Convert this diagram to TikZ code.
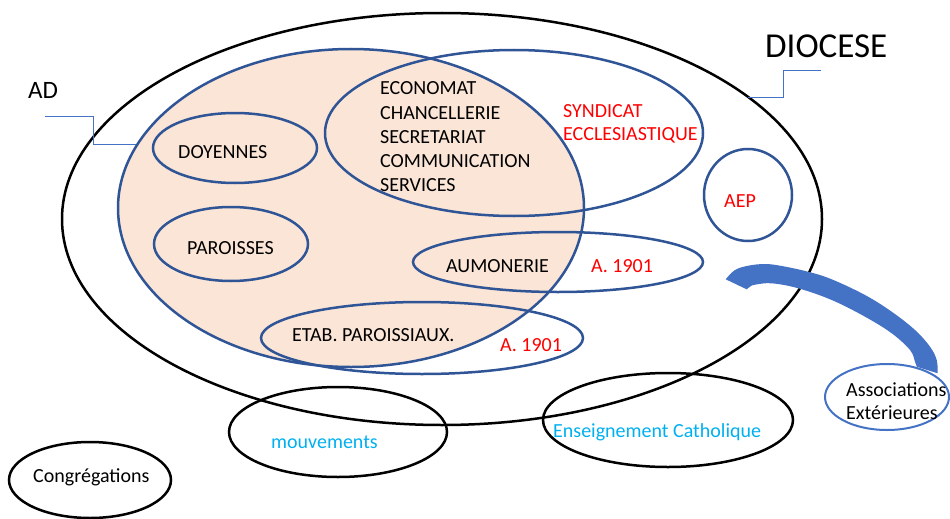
\documentclass[tikz,border=0pt]{standalone}
\usepackage{fontspec}
\setmainfont{Carlito}
\usetikzlibrary{shapes.geometric}
\definecolor{dblue}{HTML}{2F5597}
\definecolor{mblue}{HTML}{4472C4}
\definecolor{peach}{HTML}{FBE5D6}
\definecolor{cyantext}{HTML}{00B0F0}
\definecolor{redtext}{HTML}{FF0000}
\begin{document}
\begin{tikzpicture}[x=1pt,y=-1pt,
  oval/.style={ellipse, draw, line width=2.5pt, inner sep=0pt, outer sep=0pt},
  blueoval/.style={oval, draw=dblue},
  lbl/.style={inner sep=0pt, anchor=base west, font=\fontsize{20}{24}\selectfont},
  redlbl/.style={lbl, text=redtext},
  cyanlbl/.style={lbl, text=cyantext},
  callout/.style={draw=mblue, line width=1pt}]
\useasboundingbox (0,0) rectangle (950,519);

% the diocese as a whole
\node[oval, minimum width=760pt, minimum height=412pt] (dio) at (442,219) {};

% curved band towards the external associations
\fill[mblue] plot[smooth, tension=0.6] coordinates {(725.7,279.3) (735,270) (748.3,265.7) (765,264) (781.7,266) (808,271.7) (831.7,279.3) (865,295) (891.7,311.7) (915,330) (930,346.7) (936.7,360) (937.7,373.3)}
  -- plot[smooth, tension=0.6] coordinates {(916.7,366.7) (915,361.7) (910,350) (891.7,333.3) (865,316.7) (831.7,300) (798.3,288.3) (771.7,283.3) (755,284.7) (750,286.7) (746.7,289.3)}
  -- cycle;

% AD and its services
\node[blueoval, fill=peach, minimum width=466pt, minimum height=318pt] (ad) at (351,208) {};
\node[blueoval, minimum width=378pt, minimum height=166pt] (synd) at (514,133) {};
\node[blueoval, minimum width=164pt, minimum height=70pt] (doy) at (235,148) {};
\node[blueoval, minimum width=154pt, minimum height=74pt] (par) at (231,244) {};
\node[blueoval, minimum width=290pt, minimum height=60pt] (aum) at (558,262) {};
\node[blueoval, minimum width=322pt, minimum height=72pt] (etab) at (422,338) {};
\node[blueoval, minimum width=88pt, minimum height=92pt] (aep) at (748,195) {};

% bodies around the diocese
\node[oval, minimum width=218pt, minimum height=90pt] (mouv) at (338,432) {};
\node[oval, minimum width=162pt, minimum height=76pt] (cong) at (90,480) {};
\node[oval, minimum width=250pt, minimum height=94pt] (ens) at (668,420) {};
\node[oval, draw=mblue, line width=2pt, minimum width=124pt, minimum height=66pt] (assoc) at (887,397) {};

% titles and their callouts
\node[lbl, font=\fontsize{25}{30}\selectfont] (adtitle) at (28,99) {AD};
\node[lbl, font=\fontsize{35}{42}\selectfont] (diotitle) at (765,58) {DIOCESE};
\coordinate (adstart) at (45,116);
\coordinate (adtip) at (136,144);
\draw[callout] (adstart) -- ++(48,0) |- (adtip);
\coordinate (diostart) at (821,71);
\coordinate (diotip) at (748,97);
\draw[callout] (diostart) -- ++(-38,0) |- (diotip);

% labels
\node[lbl] (tdoy) at (178,158) {DOYENNES};
\node[lbl] (tpar) at (187,254) {PAROISSES};
\node[lbl] (teco) at (380,95) {ECONOMAT};
\node[lbl] (tcha) at (380,119) {CHANCELLERIE};
\node[lbl] (tsec) at (380,143) {SECRETARIAT};
\node[lbl] (tcom) at (380,167) {COMMUNICATION};
\node[lbl] (tser) at (380,191) {SERVICES};
\node[redlbl] (tsyn1) at (563,117) {SYNDICAT};
\node[redlbl] (tsyn2) at (563,140) {ECCLESIASTIQUE};
\node[redlbl] (taep) at (724,207) {AEP};
\node[lbl] (taum) at (446,272) {AUMONERIE};
\node[redlbl] (tasso1) at (591,272) {A. 1901};
\node[lbl] (tetab) at (292,341) {ETAB. PAROISSIAUX.};
\node[redlbl] (tasso2) at (500,351) {A. 1901};
\node[cyanlbl] (tmouv) at (271,448) {mouvements};
\node[lbl] (tcong) at (33,482) {Congrégations};
\node[cyanlbl] (tens) at (553,437) {Enseignement Catholique};
\node[lbl] (tassoc1) at (846,396) {Associations};
\node[lbl] (tassoc2) at (846,419) {Extérieures};
\end{tikzpicture}
\end{document}
